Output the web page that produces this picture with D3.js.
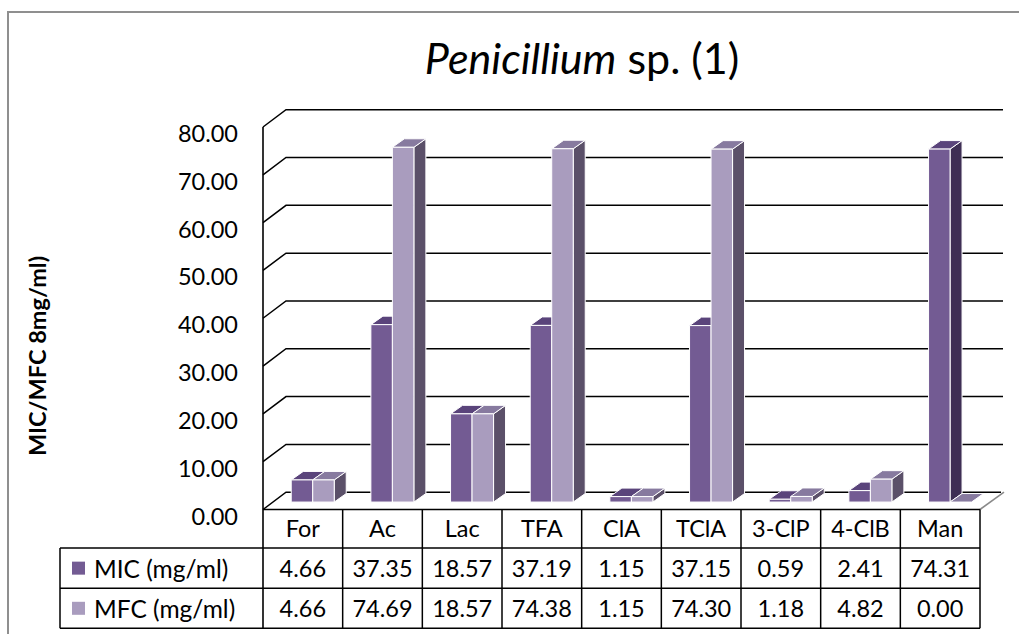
<!DOCTYPE html>
<html>
<head>
<meta charset="utf-8">
<script src="https://cdn.jsdelivr.net/npm/d3@7"></script>
<style>
  html, body { margin: 0; padding: 0; background: #fff; }
  svg { display: block; font-family: Lato, "Open Sans", sans-serif; }
</style>
</head>
<body>
<svg id="chart" width="1019" height="634"></svg>
<script>
// Data
const categories = ["For", "Ac", "Lac", "TFA", "ClA", "TClA", "3-ClP", "4-ClB", "Man"];
const seriesNames = ["MIC (mg/ml)", "MFC (mg/ml)"];
const micValues = [4.66, 37.35, 18.57, 37.19, 1.15, 37.15, 0.59, 2.41, 74.31];
const mfcValues = [4.66, 74.69, 18.57, 74.38, 1.15, 74.30, 1.18, 4.82, 0.00];
const yTicks = [0, 10, 20, 30, 40, 50, 60, 70, 80];

const series = [
  { name: seriesNames[0], values: micValues, front: "#735b93", top: "#5a447b", side: "#3e2e54" },
  { name: seriesNames[1], values: mfcValues, front: "#a99cbe", top: "#877a9f", side: "#5b5069" }
];

const svg = d3.select("#chart");

// Layout of the 3D frame
const left = 263, right = 980;
const floorY = 509.5;              // front edge of the floor
const depthX = 23, depthY = -17.3; // full depth of the floor/walls
const barD0 = 0.43;                // depth where bar fronts sit
const barDX = 12, barDY = -8.5;    // bar depth
const groupW = 43;

const x = d3.scaleBand().domain(categories).range([left, right]).padding(0);
const inner = d3.scaleBand().domain(seriesNames)
  .range([(x.bandwidth() - groupW) / 2, (x.bandwidth() + groupW) / 2]).padding(0);
const yFront = d3.scaleLinear().domain([0, 80]).range([floorY, floorY - 382.5]);
const barH = d3.scaleLinear().domain([0, 80]).range([0, 380]);

// Outer frame
svg.append("path")
  .attr("d", "M8,640 L8,12 L1030,12")
  .attr("fill", "none").attr("stroke", "#8f8f8f").attr("stroke-width", 2);

// Title
const title = svg.append("text")
  .attr("x", 582).attr("y", 74)
  .attr("text-anchor", "middle")
  .attr("font-size", 43).attr("fill", "#000");
title.append("tspan").attr("font-style", "italic").text("Penicillium");
title.append("tspan").text(" sp. (1)");

// Axis title
svg.append("text")
  .attr("transform", "translate(46,356) rotate(-90)")
  .attr("text-anchor", "middle")
  .attr("font-size", 23.5).attr("font-weight", "bold")
  .text("MIC/MFC 8mg/ml)");

// Gridlines: side wall (slanted) and back wall (horizontal)
const grid = svg.append("g").attr("stroke", "#000").attr("stroke-width", 1.5).attr("fill", "none");
yTicks.forEach(v => {
  const yf = yFront(v), yb = yf + depthY;
  grid.append("path")
    .attr("d", `M${left},${yf} L${left + depthX},${yb} L${right + depthX - (v === 0 ? 2 : 0)},${yb}`);
});
// Right edge of the floor
svg.append("line")
  .attr("x1", right).attr("y1", floorY)
  .attr("x2", right + depthX + 1).attr("y2", floorY + depthY)
  .attr("stroke", "#8a8a8a").attr("stroke-width", 1.6);

// Tick labels
svg.append("g").selectAll("text").data(yTicks).join("text")
  .attr("x", 238).attr("y", d => yFront(d) + 6)
  .attr("text-anchor", "end").attr("dominant-baseline", "central")
  .attr("font-size", 23.5)
  .text(d => d.toFixed(2));

// 3D bars: side face, top face, front face
const baseY = floorY + barD0 * depthY;
const shiftX = barD0 * depthX;
const bars = svg.append("g");
categories.forEach((c, i) => {
  series.forEach(s => {
    const v = s.values[i];
    const x0 = x(c) + inner(s.name) + shiftX;
    const x1 = x0 + inner.bandwidth();
    const yb = baseY, yt = baseY - barH(v);
    const g = bars.append("g").attr("stroke", "#fff").attr("stroke-width", 1).attr("stroke-linejoin", "round");
    g.append("path")
      .attr("d", `M${x1},${yb} L${x1 + barDX},${yb + barDY} L${x1 + barDX},${yt + barDY} L${x1},${yt} Z`)
      .attr("fill", s.side);
    g.append("path")
      .attr("d", `M${x0},${yt} L${x0 + barDX},${yt + barDY} L${x1 + barDX},${yt + barDY} L${x1},${yt} Z`)
      .attr("fill", s.top);
    if (v > 0) {
      g.append("rect")
        .attr("x", x0).attr("y", yt)
        .attr("width", x1 - x0).attr("height", yb - yt)
        .attr("fill", s.front);
    }
  });
});

// Vertical axis line (runs down through the table)
svg.append("line")
  .attr("x1", left).attr("x2", left)
  .attr("y1", yFront(80)).attr("y2", 628.5)
  .attr("stroke", "#000").attr("stroke-width", 1.6);

// Data table
const rowTop = [floorY, 548, 588.3, 628.3];
const tbl = svg.append("g").attr("stroke", "#000").attr("stroke-width", 1.5).attr("fill", "none");
tbl.append("line").attr("x1", left).attr("x2", right).attr("y1", rowTop[0]).attr("y2", rowTop[0]);
tbl.append("line").attr("x1", 60).attr("x2", right).attr("y1", rowTop[1]).attr("y2", rowTop[1]);
tbl.append("line").attr("x1", 60).attr("x2", right).attr("y1", rowTop[2]).attr("y2", rowTop[2]);
tbl.append("line").attr("x1", 60).attr("x2", right).attr("y1", rowTop[3]).attr("y2", rowTop[3]);
tbl.append("line").attr("x1", 60).attr("x2", 60).attr("y1", rowTop[1]).attr("y2", rowTop[3]);
categories.forEach(c => {
  const xr = x(c) + x.bandwidth();
  tbl.append("line").attr("x1", xr).attr("x2", xr).attr("y1", rowTop[0]).attr("y2", rowTop[3]);
});

const txt = svg.append("g").attr("font-size", 23.5).attr("text-anchor", "middle").attr("dominant-baseline", "central");
categories.forEach((c, i) => {
  const cx = x(c) + x.bandwidth() / 2;
  txt.append("text").attr("x", cx).attr("y", (rowTop[0] + rowTop[1]) / 2 - 1).text(c);
  series.forEach((s, j) => {
    txt.append("text").attr("x", cx).attr("y", (rowTop[j + 1] + rowTop[j + 2]) / 2).text(s.values[i].toFixed(2));
  });
});

// Legend keys in the table
series.forEach((s, j) => {
  const cy = (rowTop[j + 1] + rowTop[j + 2]) / 2;
  svg.append("rect").attr("x", 72).attr("y", cy - 6.5).attr("width", 13).attr("height", 13).attr("fill", s.front);
  svg.append("text").attr("x", 94).attr("y", cy).attr("dominant-baseline", "central")
    .attr("font-size", 24.5).text(s.name);
});
</script>
</body>
</html>
